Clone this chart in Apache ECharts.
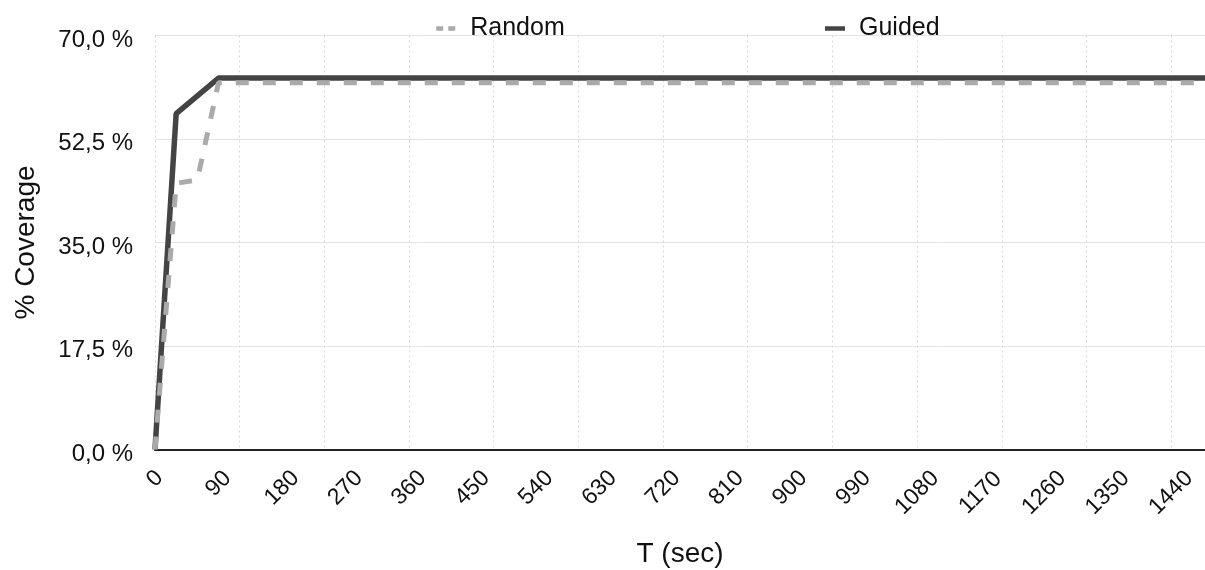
<!DOCTYPE html>
<html>
<head>
<meta charset="utf-8">
<script src="https://cdn.jsdelivr.net/npm/echarts@6/dist/echarts.min.js"></script>
<style>html,body{margin:0;padding:0;background:#fff}#c{width:1205px;height:570px}</style>
</head>
<body>
<div id="c"></div>
<script>
// ---- data ----
const times = [0,30,60,90,120,150,180,210,240,270,300,330,360,390,420,450,480,510,540,570,
  600,630,660,690,720,750,780,810,840,870,900,930,960,990,1020,1050,1080,1110,1140,1170,
  1200,1230,1260,1290,1320,1350,1380,1410,1440,1470,1500];
const randomCov = [0,45.0,45.6,62.0,
  62.0,62.0,62.0,62.0,62.0,62.0,62.0,62.0,62.0,62.0,
  62.0,62.0,62.0,62.0,62.0,62.0,62.0,62.0,62.0,62.0,
  62.0,62.0,62.0,62.0,62.0,62.0,62.0,62.0,62.0,62.0,
  62.0,62.0,62.0,62.0,62.0,62.0,62.0,62.0,62.0,62.0,
  62.0,62.0,62.0,62.0,62.0,62.0,62.0];
const guidedCov = [0,56.8,59.8,62.8,
  62.8,62.8,62.8,62.8,62.8,62.8,62.8,62.8,62.8,62.8,
  62.8,62.8,62.8,62.8,62.8,62.8,62.8,62.8,62.8,62.8,
  62.8,62.8,62.8,62.8,62.8,62.8,62.8,62.8,62.8,62.8,
  62.8,62.8,62.8,62.8,62.8,62.8,62.8,62.8,62.8,62.8,
  62.8,62.8,62.8,62.8,62.8,62.8,62.8];
const seriesNames = ['Random','Guided'];
const xLabelStep = 90;    // seconds between x tick labels
const xGridStep = 120;    // seconds between vertical grid lines
const xMax = 1488;
const yTicks = [0, 17.5, 35, 52.5, 70];
const xName = 'T (sec)';
const yName = '% Coverage';

const FONT = '"Liberation Sans", Arial, Helvetica, sans-serif';
const pair = (vals) => times.map((t, i) => [t, vals[i]]);
const padFor = (n) => Math.round(n * 6.4);
const rich = {};
[1,2,3,4,5].forEach(n => {
  rich['p' + n] = {padding: [padFor(n), padFor(n), 0, 0], fontSize: 23, fontFamily: FONT, color: '#111'};
});

const chart = echarts.init(document.getElementById('c'), null, {renderer: 'canvas'});
chart.setOption({
  animation: false,
  backgroundColor: '#fff',
  grid: {left: 155, right: 0, top: 35.5, bottom: 120.5, containLabel: false, outerBoundsMode: 'none'},
  legend: {
    left: 434, top: 16, padding: 0, itemGap: 258, itemWidth: 20, itemHeight: 14,
    textStyle: {fontSize: 25, fontFamily: FONT, color: '#111', padding: [0, 0, 0, 9]},
    data: [
      {name: seriesNames[0], itemStyle: {opacity: 0}, lineStyle: {type: [7, 5], width: 4.5, color: '#aaaaaa'}},
      {name: seriesNames[1], itemStyle: {opacity: 0}, lineStyle: {type: 'solid', width: 4.5, color: '#444444'}}
    ]
  },
  xAxis: [{
    type: 'value', min: 0, max: xMax, interval: xLabelStep,
    name: xName, nameLocation: 'middle', nameGap: 91,
    nameTextStyle: {fontSize: 28, fontFamily: FONT, color: '#111'},
    axisLine: {show: true, lineStyle: {color: '#222', width: 2}},
    axisTick: {show: false},
    splitLine: {show: false},
    axisLabel: {
      rotate: 45, align: 'center', verticalAlign: 'middle', margin: 25,
      showMaxLabel: false, fontSize: 23, fontFamily: FONT, color: '#111',
      formatter: (v) => (v % xLabelStep === 0 ? '{p' + String(v).length + '|' + v + '}' : ''),
      rich: rich
    }
  }, {
    type: 'value', min: 0, max: xMax, interval: xGridStep, position: 'bottom',
    axisLine: {show: false}, axisTick: {show: false}, axisLabel: {show: false},
    splitLine: {show: true, lineStyle: {color: '#d9d9d9', type: [2, 3], width: 1}}
  }],
  yAxis: {
    type: 'value', min: yTicks[0], max: yTicks[yTicks.length - 1], interval: yTicks[1] - yTicks[0],
    name: yName, nameLocation: 'middle', nameGap: 115,
    nameTextStyle: {fontSize: 28, fontFamily: FONT, color: '#111'},
    axisLine: {show: false}, axisTick: {show: false},
    splitLine: {show: true, lineStyle: {color: '#e4e4e4', width: 1}},
    axisLabel: {
      margin: 22, fontSize: 24, fontFamily: FONT, color: '#111',
      formatter: (v) => '{y|' + v.toFixed(1).replace('.', ',') + ' %}',
      rich: {y: {padding: [9, 0, 0, 0], fontSize: 24, fontFamily: FONT, color: '#111'}}
    }
  },
  series: [
    {
      name: seriesNames[1], type: 'line', xAxisIndex: 0, data: pair(guidedCov),
      symbol: 'none', lineStyle: {color: '#444444', width: 5.5}, itemStyle: {color: '#444444'}
    },
    {
      name: seriesNames[0], type: 'line', xAxisIndex: 0, data: pair(randomCov),
      symbol: 'none', lineStyle: {color: '#aaaaaa', width: 5, type: [13, 14]}, itemStyle: {color: '#aaaaaa'}
    }
  ]
});
</script>
</body>
</html>
